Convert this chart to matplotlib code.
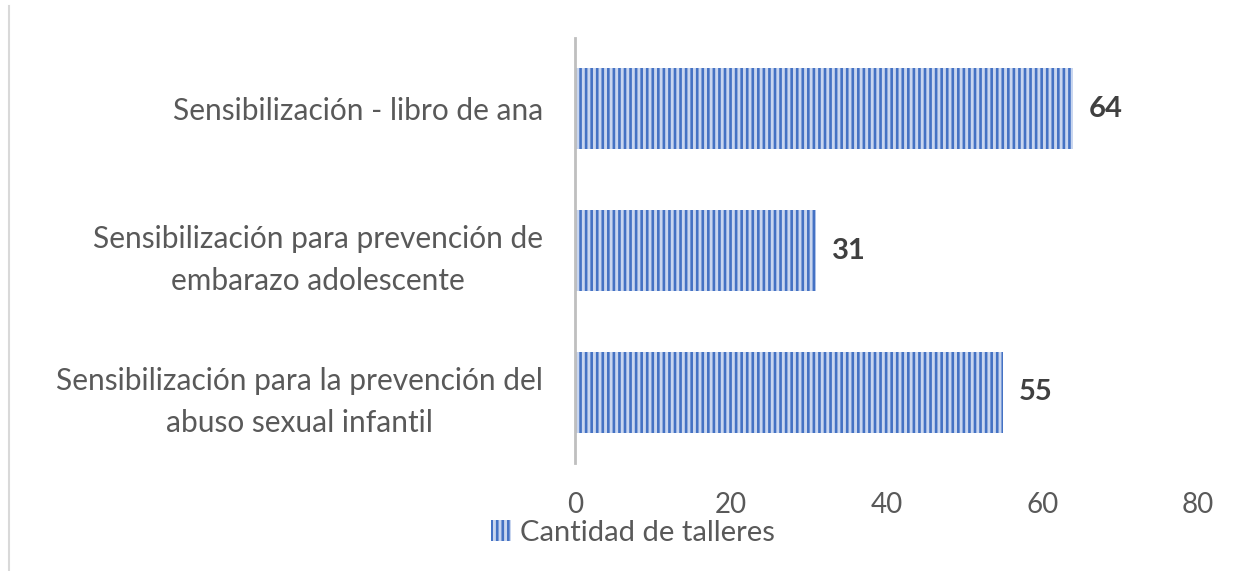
import numpy as np
import matplotlib.pyplot as plt
from matplotlib.patches import Patch
from matplotlib.lines import Line2D

categorias = ["Sensibilización - libro de ana",
              "Sensibilización para prevención de\nembarazo adolescente",
              "Sensibilización para la prevención del\nabuso sexual infantil"]
valores = [64, 31, 55]
ticks_x = [0, 20, 40, 60, 80]
serie = "Cantidad de talleres"

plt.rcParams['font.family'] = ['Lato', 'DejaVu Sans']
plt.rcParams['hatch.linewidth'] = 1.9

azul = '#4472C4'
claro = '#c9d6ef'
gris_txt = '#595959'

fig = plt.figure(figsize=(12.43, 5.71), dpi=100)
ax = fig.add_axes([0.4626, 0.189, 0.5012, 0.7445])

y = np.arange(len(categorias))[::-1]
bars = ax.barh(y, valores, height=0.57, color=claro, edgecolor=azul,
               linewidth=0, hatch='|||')

for b, v in zip(bars, valores):
    ax.text(b.get_width() + 2.0, b.get_y() + b.get_height() / 2, str(v),
            va='center', ha='left', fontsize=21, fontweight='bold', color='#404040')

ax.set_xlim(0, 80)
ax.set_ylim(-0.5, 2.5)
ax.set_xticks(ticks_x)
ax.set_xticklabels([str(t) for t in ticks_x], fontsize=20, color=gris_txt)
ax.set_yticks(y)
ax.set_yticklabels(categorias, fontsize=21.5, color=gris_txt,
                   multialignment='center', linespacing=1.6)
ax.tick_params(axis='x', length=0, pad=21)
ax.tick_params(axis='y', length=0, pad=23)

for s in ['top', 'right', 'bottom']:
    ax.spines[s].set_visible(False)
ax.spines['left'].set_color('#BFBFBF')
ax.spines['left'].set_linewidth(2)

leg_handle = Patch(facecolor=claro, edgecolor=azul, linewidth=0, hatch='|||')
fig.legend([leg_handle], [serie], loc='center', bbox_to_anchor=(0.509, 0.067),
           frameon=False, fontsize=21, labelcolor=gris_txt,
           handlelength=0.7, handleheight=0.7, handletextpad=0.3)

# borde izquierdo del contenedor
fig.add_artist(Line2D([0.0072, 0.0072], [0.0, 0.99], color='#D9D9D9', linewidth=1.5))

fig.savefig('out.png', dpi=100)
